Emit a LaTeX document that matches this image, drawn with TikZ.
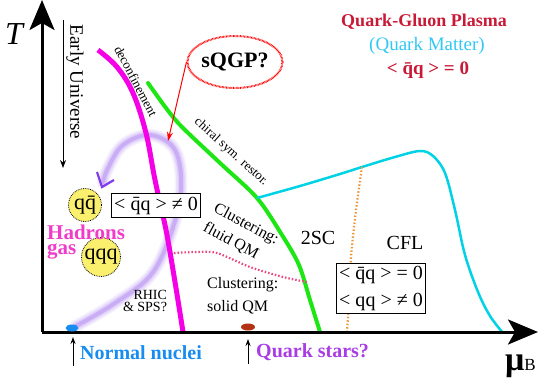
\documentclass[tikz,border=0pt]{standalone}
\usepackage{fontspec}
\setmainfont{Liberation Serif}
\usetikzlibrary{arrows.meta,shapes.geometric}
\definecolor{magent}{RGB}{245,0,230}
\definecolor{grn}{RGB}{30,230,20}
\definecolor{cyn}{RGB}{0,210,230}
\definecolor{crim}{RGB}{200,25,55}
\definecolor{qmcyan}{RGB}{50,200,245}
\definecolor{lav}{RGB}{175,135,240}
\definecolor{vio}{RGB}{130,60,240}
\definecolor{nblue}{RGB}{25,140,240}
\definecolor{qsviol}{RGB}{170,60,230}
\definecolor{orng}{RGB}{235,150,60}
\definecolor{pnk}{RGB}{235,70,130}
\definecolor{brn}{RGB}{180,50,20}
\definecolor{yel}{RGB}{250,240,110}
\definecolor{hadmag}{RGB}{240,60,200}
\newcommand{\fsz}[2]{\fontsize{#1}{#2}\selectfont}
\begin{document}
\begin{tikzpicture}[x=1pt,y=-1pt,
  axisline/.style={line width=3pt,-{Stealth[length=30pt,width=25pt,inset=7pt]}},
  phase/.style={line width=4pt,line cap=round},
  lbl/.style={inner sep=0pt,font=\fsz{13}{14}},
  infobox/.style={draw,fill=white,line width=1pt,inner sep=3pt,font=\fsz{20}{27},align=center},
  quarkball/.style={circle,draw,fill=yel,densely dotted,line width=0.8pt,inner sep=1pt,minimum size=33pt,font=\fsz{22}{22}},
  updot/.style={-{Stealth[length=7pt,width=5pt]},line width=1pt}]
\useasboundingbox (0,0) rectangle (545,382);
% axes
\coordinate (O) at (42,332);
\coordinate (Ttop) at (42,0);
\coordinate (Mend) at (538,332);
% purple spiral (blurred)
\foreach \w/\o in {13/0.10,10/0.15,7/0.22,4/0.45}{
  \draw[lav,line width=\w pt,opacity=\o,line cap=round]
    plot[smooth,tension=0.6] coordinates {(76,326) (112,305) (150,276) (170,236) (181,190) (175,150) (150,135) (123,145) (108,168) (103,182)};
}
\coordinate (spA) at (97,172);
\coordinate (spB) at (102,187);
\coordinate (spC) at (114,180);
\draw[vio,line width=2.2pt] (spA) -- (spB) -- (spC);
% deconfinement line
\draw[magent,line width=5pt] plot[smooth,tension=0.6] coordinates {(98,50) (117,67) (133,93) (146,133) (155,180) (166,230) (175,282) (183,332)};
% chiral line
\draw[grn,phase] plot[smooth,tension=0.5] coordinates {(148,83) (166,108) (182,127) (220,163) (257,198) (282,235) (299,265) (310,300) (320,332)};
% CFL boundary
\draw[cyn,line width=2.5pt] plot[smooth,tension=0.55] coordinates {(257,198) (300,186) (340,174) (362,167) (395,157) (420,151) (433,156) (445,173) (455,210) (465,255) (478,292) (490,316) (503,333)};
% dotted lines
\draw[orng,line width=2.2pt,dash pattern=on 1.5pt off 2pt] plot[smooth] coordinates {(362,167) (356,210) (351,257) (349,300) (347,332)};
\draw[pnk,line width=2.2pt,dash pattern=on 1.5pt off 2pt] plot[smooth] coordinates {(174,253) (196,252) (217,253) (250,267) (283,277) (307,282)};
% axes drawn on top
\draw[axisline] (O) -- (Ttop);
\draw[axisline] (O) -- (Mend);
\node[font=\fsz{32}{32}\itshape,inner sep=0pt] (Tlab) at (14,34) {T};
\node[inner sep=0pt,anchor=west] (mulab) at (505,366) {\fsz{34}{34}\bfseries μ\raisebox{0pt}{\fsz{17}{17}\mdseries B}};
% Early universe
\coordinate (euTop) at (63,20);
\coordinate (euBot) at (63,168);
\draw[line width=1pt,-{Stealth[length=8pt,width=6pt]}] (euTop) -- (euBot);
\node[rotate=-90,font=\fsz{19}{19},inner sep=0pt] (eu) at (75,82) {Early Universe};
% labels on lines
\node[lbl,rotate=-62] (decon) at (136,81) {deconfinement};
\node[lbl,rotate=-42] (chiral) at (231,152) {chiral sym. restor.};
% sQGP
\node[ellipse,draw=red,line width=2pt,dash pattern=on 0.7pt off 0.7pt,minimum width=78pt,minimum height=52pt,inner sep=0pt,font=\fsz{22}{22}\bfseries] (sqgp) at (235,62) {sQGP?};
\coordinate (sqtip) at (168,141);
\draw[red,line width=1pt,-{Stealth[length=9pt,width=6pt]}] (sqgp.west) -- (sqtip);
% QGP title
\node[font=\fsz{18}{18}\bfseries,text=crim,inner sep=0pt] (qgp) at (424,22) {Quark-Gluon Plasma};
\node[font=\fsz{19}{19},text=qmcyan,inner sep=0pt] (qm) at (427,46) {(Quark Matter)};
\node[font=\fsz{19}{19}\bfseries,text=crim,inner sep=0pt] (cond0) at (428,70) {< \=qq > = 0};
% hadron region
\node[quarkball] (qqbar) at (85,205) {q\=q};
\node[quarkball] (qqq) at (101,257) {qqq};
\node[infobox] (box1) at (156,205.5) {< \=qq > ≠ 0};
\node[font=\fsz{21}{15}\bfseries,text=hadmag,align=left,anchor=west,inner sep=0pt] (had) at (47,242) {Hadrons\\gas};
\node[font=\fsz{14}{12},align=right,inner sep=0pt] (rhic) at (145,301) {RHIC\\\& SPS?};
% clustering
\node[font=\fsz{16}{22},align=left,rotate=-28,inner sep=0pt] (fluid) at (241,234) {Clustering:\\fluid QM};
\node[font=\fsz{16}{23},align=left,anchor=west,inner sep=0pt] (solid) at (207,296) {Clustering:\\solid QM};
\node[font=\fsz{20}{20},inner sep=0pt] (twosc) at (318,238) {2SC};
\node[font=\fsz{20}{20},inner sep=0pt] (cfl) at (405,243) {CFL};
\node[infobox] (box2) at (381,288.5) {< \=qq > = 0\\< qq > ≠ 0};
% dots on axis
\node[ellipse,fill=nblue,minimum width=13pt,minimum height=7pt,inner sep=0pt] (nucdot) at (72,328) {};
\node[ellipse,fill=brn,minimum width=14pt,minimum height=7pt,inner sep=0pt] (stardot) at (248,327) {};
% bottom labels
\coordinate (nnB) at (73,366);
\coordinate (nnT) at (73,337);
\draw[updot] (nnB) -- (nnT);
\node[font=\fsz{20}{20}\bfseries,text=nblue,anchor=west,inner sep=0pt] (nn) at (80,353) {Normal nuclei};
\coordinate (qsB) at (248,364);
\coordinate (qsT) at (248,339);
\draw[updot] (qsB) -- (qsT);
\node[font=\fsz{20}{20}\bfseries,text=qsviol,anchor=west,inner sep=0pt] (qs) at (256,352) {Quark stars?};
\end{tikzpicture}
\end{document}
